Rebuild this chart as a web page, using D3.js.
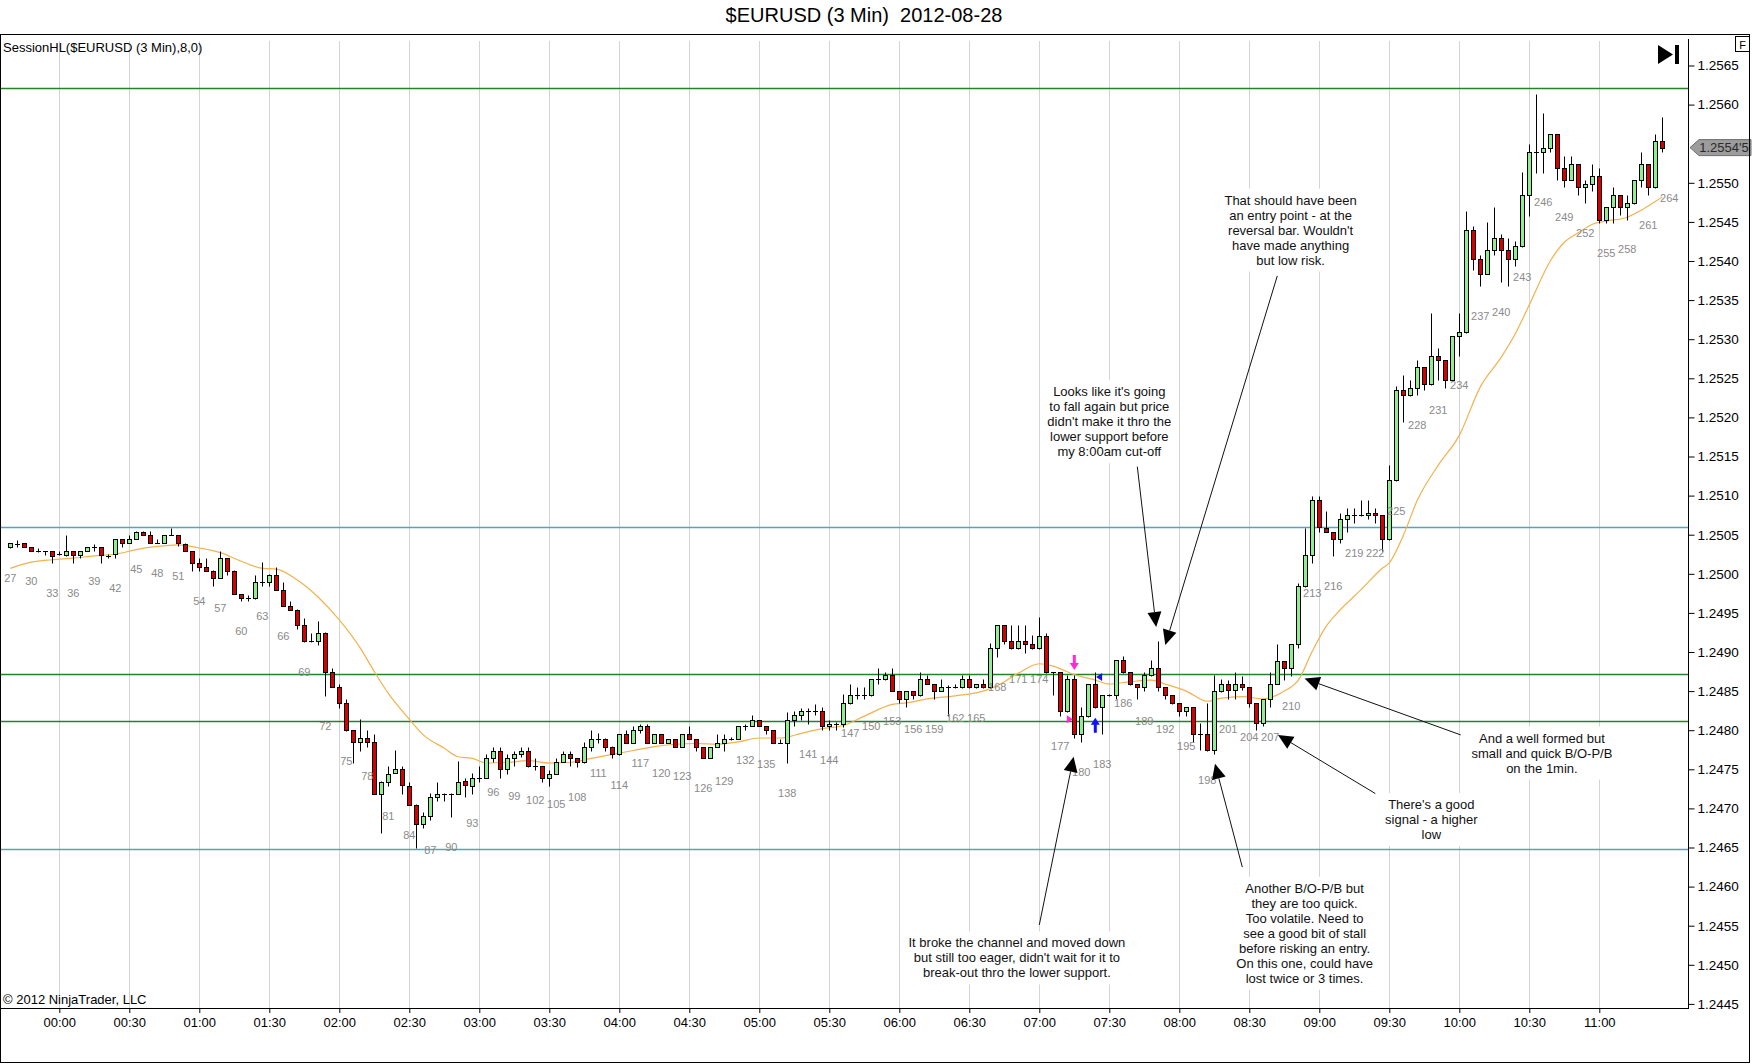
<!DOCTYPE html>
<html>
<head>
<meta charset="utf-8">
<script src="https://cdn.jsdelivr.net/npm/d3@7"></script>
<style>
  body { margin: 0; background: #fff; }
  svg { display: block; font-family: "Liberation Sans", Arial, sans-serif; }
</style>
</head>
<body>
<div id="chart"></div>
<script>
// ---- data ----
const title = "$EURUSD (3 Min)  2012-08-28";
const indicatorName = "SessionHL($EURUSD (3 Min),8,0)";
const copyright = "\u00a9 2012 NinjaTrader, LLC";
const lastPriceText = "1.2554'5";

// bar numbering: bar 34 opens at 00:00, one bar every 3 minutes
const firstBar = 27;
const midnightBar = 34;

// OHLC for bars 27 .. 263 (ten per row)
const opens = [
  1.25034,1.25038,1.25039,1.25034,1.25029,1.25029,1.25029,1.25025,1.25024,1.25029,
  1.25024,1.25029,1.25034,1.25034,1.25023,1.25025,1.25044,1.25039,1.25044,1.25054,
  1.25049,1.25040,1.25039,1.25050,1.25049,1.25038,1.25029,1.25014,1.25009,1.25004,
  1.24994,1.25020,1.25004,1.24974,1.24969,1.24969,1.24989,1.24989,1.24999,1.24979,
  1.24959,1.24954,1.24934,1.24914,1.24914,1.24924,1.24874,1.24855,1.24835,1.24800,
  1.24785,1.24790,1.24785,1.24719,1.24734,1.24745,1.24750,1.24729,1.24704,1.24680,
  1.24690,1.24714,1.24719,1.24719,1.24719,1.24735,1.24729,1.24739,1.24739,1.24764,
  1.24774,1.24750,1.24764,1.24769,1.24774,1.24754,1.24754,1.24739,1.24744,1.24759,
  1.24769,1.24764,1.24759,1.24779,1.24789,1.24789,1.24779,1.24769,1.24795,1.24784,
  1.24800,1.24805,1.24784,1.24795,1.24784,1.24789,1.24779,1.24795,1.24789,1.24779,
  1.24764,1.24779,1.24784,1.24789,1.24789,1.24805,1.24805,1.24813,1.24805,1.24800,
  1.24784,1.24784,1.24813,1.24819,1.24824,1.24824,1.24824,1.24805,1.24808,1.24808,
  1.24835,1.24845,1.24845,1.24845,1.24865,1.24865,1.24870,1.24850,1.24840,1.24850,
  1.24845,1.24865,1.24859,1.24850,1.24855,1.24855,1.24855,1.24865,1.24855,1.24859,
  1.24855,1.24905,1.24935,1.24914,1.24905,1.24914,1.24910,1.24905,1.24920,1.24874,
  1.24874,1.24824,1.24865,1.24795,1.24818,1.24859,1.24830,1.24845,1.24845,1.24890,
  1.24874,1.24859,1.24855,1.24870,1.24879,1.24855,1.24845,1.24835,1.24824,1.24830,
  1.24795,1.24795,1.24775,1.24850,1.24859,1.24851,1.24859,1.24855,1.24835,1.24809,
  1.24840,1.24859,1.24889,1.24879,1.24910,1.24984,1.25024,1.25094,1.25058,1.25054,
  1.25044,1.25070,1.25075,1.25075,1.25075,1.25078,1.25075,1.25044,1.25120,1.25235,
  1.25229,1.25238,1.25264,1.25243,1.25279,1.25274,1.25248,1.25304,1.25309,1.25440,
  1.25403,1.25384,1.25414,1.25429,1.25414,1.25403,1.25419,1.25485,1.25539,1.25539,
  1.25544,1.25563,1.25519,1.25504,1.25524,1.25494,1.25499,1.25509,1.25453,1.25469,
  1.25484,1.25469,1.25474,1.25504,1.25524,1.25494,1.25554
];
const highs = [
  1.25040,1.25043,1.25040,1.25034,1.25033,1.25029,1.25029,1.25029,1.25050,1.25029,
  1.25029,1.25034,1.25038,1.25034,1.25025,1.25044,1.25044,1.25049,1.25055,1.25055,
  1.25055,1.25044,1.25050,1.25059,1.25050,1.25039,1.25029,1.25020,1.25020,1.25005,
  1.25029,1.25020,1.25005,1.24974,1.24973,1.24999,1.25015,1.25000,1.25009,1.24989,
  1.24965,1.24955,1.24944,1.24924,1.24940,1.24925,1.24879,1.24859,1.24840,1.24800,
  1.24814,1.24800,1.24795,1.24735,1.24754,1.24775,1.24754,1.24734,1.24705,1.24695,
  1.24720,1.24734,1.24720,1.24720,1.24760,1.24739,1.24745,1.24754,1.24770,1.24779,
  1.24779,1.24770,1.24774,1.24779,1.24779,1.24764,1.24754,1.24749,1.24764,1.24774,
  1.24774,1.24764,1.24785,1.24800,1.24796,1.24790,1.24780,1.24795,1.24800,1.24806,
  1.24808,1.24808,1.24795,1.24795,1.24789,1.24789,1.24795,1.24805,1.24789,1.24779,
  1.24779,1.24795,1.24795,1.24791,1.24805,1.24808,1.24819,1.24813,1.24805,1.24800,
  1.24789,1.24823,1.24825,1.24829,1.24829,1.24834,1.24830,1.24813,1.24810,1.24846,
  1.24859,1.24855,1.24855,1.24865,1.24879,1.24874,1.24879,1.24850,1.24850,1.24850,
  1.24874,1.24870,1.24859,1.24865,1.24858,1.24859,1.24870,1.24870,1.24859,1.24865,
  1.24911,1.24935,1.24935,1.24935,1.24935,1.24935,1.24922,1.24945,1.24924,1.24874,
  1.24874,1.24870,1.24870,1.24830,1.24859,1.24874,1.24845,1.24846,1.24890,1.24895,
  1.24874,1.24859,1.24874,1.24890,1.24914,1.24855,1.24845,1.24835,1.24830,1.24830,
  1.24809,1.24835,1.24870,1.24865,1.24864,1.24874,1.24869,1.24855,1.24835,1.24840,
  1.24874,1.24910,1.24889,1.24910,1.24988,1.25058,1.25100,1.25100,1.25080,1.25054,
  1.25078,1.25084,1.25084,1.25094,1.25094,1.25084,1.25075,1.25139,1.25240,1.25254,
  1.25248,1.25274,1.25264,1.25334,1.25289,1.25274,1.25304,1.25334,1.25464,1.25445,
  1.25408,1.25450,1.25469,1.25434,1.25429,1.25425,1.25514,1.25550,1.25613,1.25589,
  1.25563,1.25563,1.25534,1.25534,1.25524,1.25504,1.25524,1.25519,1.25469,1.25494,
  1.25484,1.25484,1.25504,1.25539,1.25524,1.25563,1.25584
];
const lows = [
  1.25033,1.25034,1.25034,1.25029,1.25028,1.25024,1.25014,1.25024,1.25023,1.25014,
  1.25020,1.25029,1.25029,1.25014,1.25020,1.25020,1.25034,1.25039,1.25044,1.25049,
  1.25039,1.25039,1.25039,1.25049,1.25035,1.25029,1.25004,1.25004,1.25004,1.24984,
  1.24994,1.24999,1.24974,1.24965,1.24965,1.24968,1.24984,1.24984,1.24979,1.24959,
  1.24954,1.24929,1.24913,1.24913,1.24909,1.24844,1.24855,1.24829,1.24799,1.24758,
  1.24774,1.24779,1.24719,1.24669,1.24729,1.24745,1.24719,1.24704,1.24649,1.24675,
  1.24685,1.24709,1.24710,1.24689,1.24719,1.24714,1.24719,1.24734,1.24739,1.24759,
  1.24739,1.24744,1.24754,1.24766,1.24753,1.24749,1.24734,1.24729,1.24744,1.24759,
  1.24754,1.24753,1.24758,1.24774,1.24783,1.24773,1.24764,1.24768,1.24784,1.24784,
  1.24796,1.24784,1.24784,1.24784,1.24784,1.24779,1.24779,1.24789,1.24773,1.24764,
  1.24764,1.24779,1.24773,1.24788,1.24789,1.24800,1.24805,1.24805,1.24795,1.24784,
  1.24784,1.24758,1.24805,1.24813,1.24808,1.24819,1.24800,1.24800,1.24800,1.24804,
  1.24834,1.24840,1.24840,1.24844,1.24859,1.24864,1.24850,1.24835,1.24830,1.24840,
  1.24844,1.24859,1.24840,1.24850,1.24818,1.24854,1.24854,1.24854,1.24854,1.24854,
  1.24854,1.24894,1.24910,1.24904,1.24904,1.24899,1.24904,1.24904,1.24873,1.24845,
  1.24818,1.24823,1.24790,1.24785,1.24817,1.24829,1.24795,1.24844,1.24840,1.24873,
  1.24858,1.24840,1.24850,1.24869,1.24850,1.24840,1.24834,1.24818,1.24818,1.24785,
  1.24775,1.24774,1.24770,1.24849,1.24840,1.24840,1.24851,1.24830,1.24800,1.24805,
  1.24830,1.24859,1.24864,1.24869,1.24905,1.24983,1.25014,1.25054,1.25053,1.25023,
  1.25039,1.25054,1.25065,1.25074,1.25070,1.25065,1.25029,1.25043,1.25119,1.25194,
  1.25228,1.25229,1.25235,1.25242,1.25248,1.25238,1.25247,1.25279,1.25308,1.25389,
  1.25368,1.25383,1.25408,1.25373,1.25368,1.25393,1.25418,1.25458,1.25513,1.25513,
  1.25539,1.25504,1.25494,1.25503,1.25484,1.25474,1.25489,1.25448,1.25449,1.25449,
  1.25459,1.25453,1.25473,1.25494,1.25484,1.25493,1.25539
];
const closes = [
  1.25039,1.25038,1.25034,1.25029,1.25029,1.25029,1.25023,1.25025,1.25029,1.25024,
  1.25029,1.25034,1.25034,1.25024,1.25023,1.25044,1.25039,1.25044,1.25054,1.25049,
  1.25039,1.25040,1.25049,1.25050,1.25039,1.25029,1.25014,1.25009,1.25004,1.24994,
  1.25020,1.25004,1.24974,1.24969,1.24969,1.24989,1.24989,1.24999,1.24979,1.24959,
  1.24954,1.24934,1.24914,1.24914,1.24924,1.24874,1.24855,1.24835,1.24800,1.24785,
  1.24790,1.24785,1.24719,1.24734,1.24744,1.24750,1.24730,1.24704,1.24680,1.24690,
  1.24714,1.24719,1.24719,1.24719,1.24734,1.24730,1.24739,1.24739,1.24764,1.24774,
  1.24750,1.24764,1.24769,1.24774,1.24754,1.24754,1.24739,1.24744,1.24759,1.24769,
  1.24764,1.24759,1.24779,1.24789,1.24789,1.24779,1.24769,1.24795,1.24784,1.24800,
  1.24805,1.24784,1.24795,1.24784,1.24789,1.24779,1.24795,1.24789,1.24779,1.24764,
  1.24779,1.24784,1.24789,1.24789,1.24805,1.24805,1.24813,1.24805,1.24800,1.24784,
  1.24784,1.24813,1.24819,1.24824,1.24824,1.24824,1.24805,1.24808,1.24808,1.24835,
  1.24845,1.24845,1.24845,1.24865,1.24865,1.24870,1.24850,1.24840,1.24850,1.24845,
  1.24865,1.24859,1.24850,1.24855,1.24855,1.24855,1.24865,1.24855,1.24859,1.24855,
  1.24905,1.24935,1.24914,1.24905,1.24914,1.24910,1.24905,1.24920,1.24874,1.24874,
  1.24824,1.24865,1.24795,1.24818,1.24859,1.24830,1.24845,1.24845,1.24890,1.24874,
  1.24859,1.24855,1.24870,1.24879,1.24855,1.24845,1.24835,1.24824,1.24830,1.24795,
  1.24795,1.24775,1.24850,1.24859,1.24851,1.24859,1.24855,1.24835,1.24809,1.24840,
  1.24859,1.24889,1.24879,1.24910,1.24984,1.25024,1.25094,1.25060,1.25054,1.25044,
  1.25070,1.25075,1.25075,1.25075,1.25078,1.25075,1.25044,1.25120,1.25235,1.25229,
  1.25238,1.25264,1.25243,1.25279,1.25274,1.25248,1.25304,1.25309,1.25440,1.25403,
  1.25384,1.25414,1.25429,1.25414,1.25403,1.25419,1.25484,1.25539,1.25539,1.25544,
  1.25563,1.25519,1.25504,1.25524,1.25494,1.25499,1.25509,1.25453,1.25469,1.25484,
  1.25469,1.25474,1.25504,1.25524,1.25494,1.25554,1.25545
];

// orange moving average, read at sample bars
const maBars = [27,30,33,36,39,42,45,48,51,54,57,60,63,65,68,71,74,77,79,81,
  84,86,89,91,93,95,98,101,104,107,110,113,116,119,122,125,128,131,134,137,
  140,143,146,149,153,155,158,162,166,168,171,174,176,179,182,184,187,190,192,195,
  198,200,203,206,209,211,213,215,217,220,223,224,226,228,231,234,237,240,242,244,
  247,249,251,253,255,258,260,262,263];
const maValues = [1.25007,1.25015,1.25018,1.25020,1.25023,1.25025,1.25031,1.25035,1.25037,1.25033,
  1.25027,1.25016,1.25007,1.25006,1.24992,1.24970,1.24941,1.24905,1.24875,1.24847,
  1.24814,1.24794,1.24777,1.24766,1.24764,1.24758,1.24759,1.24761,1.24758,1.24759,
  1.24764,1.24769,1.24774,1.24779,1.24782,1.24783,1.24782,1.24785,1.24790,1.24790,
  1.24796,1.24802,1.24806,1.24818,1.24833,1.24835,1.24840,1.24844,1.24850,1.24857,
  1.24873,1.24885,1.24882,1.24871,1.24864,1.24859,1.24862,1.24864,1.24859,1.24850,
  1.24837,1.24841,1.24843,1.24840,1.24850,1.24864,1.24901,1.24933,1.24954,1.24980,
  1.25007,1.25014,1.25049,1.25094,1.25139,1.25177,1.25239,1.25277,1.25307,1.25344,
  1.25400,1.25424,1.25436,1.25447,1.25451,1.25456,1.25465,1.25476,1.25482];

// session high / low lines
const levelPrices = [1.25621, 1.25060, 1.24872, 1.24812, 1.24648];
const levelKinds  = ["current", "prior", "current", "current", "prior"];

// bar number label drawn without a visible bar
const extraLabelBars = [264];
const extraLabelLows = [1.25519];

// trade markers
const signals = [
  {bar: 179, price: 1.24877, kind: "down"},
  {bar: 178.5, price: 1.24814, kind: "entry"},
  {bar: 182.4, price: 1.24868, kind: "exit"},
  {bar: 182, price: 1.24816, kind: "up"}
];

// annotations: text anchor (bar, price) and arrow from/to (bar, price)
const annotations = [
  {lines: ["That should have been", "an entry point - at the", "reversal bar. Wouldn't", "have made anything", "but low risk."],
   at: [209.9, 1.25478], from: [208.0, 1.25381], to: [192.0, 1.24909]},
  {lines: ["Looks like it's going", "to fall again but price", "didn't make it thro the", "lower support before", "my 8:00am cut-off"],
   at: [184.0, 1.25233], from: [188.0, 1.25137], to: [190.7, 1.24932]},
  {lines: ["It broke the channel and moved down", "but still too eager, didn't wait for it to", "break-out thro the lower support."],
   at: [170.8, 1.24528], from: [174.0, 1.24551], to: [178.9, 1.24766]},
  {lines: ["Another B/O-P/B but", "they are too quick.", "Too volatile. Need to", "see a good bit of stall", "before risking an entry.", "On this one, could have", "lost twice or 3 times."],
   at: [211.9, 1.24598], from: [203.0, 1.24625], to: [199.1, 1.24757]},
  {lines: ["There's a good", "signal - a higher", "low"],
   at: [230.0, 1.24705], from: [222.0, 1.24719], to: [208.1, 1.24794]},
  {lines: ["And a well formed but", "small and quick B/O-P/B", "on the 1min."],
   at: [245.8, 1.24790], from: [234.2, 1.24794], to: [211.9, 1.24866]}
];

// ---- layout ----
const W = 1752, H = 1064;
const plotRight = 1688, plotTop = 39, plotBottom = 1008;

const svg = d3.select("#chart").append("svg")
  .attr("width", W).attr("height", H);

svg.append("rect").attr("width", W).attr("height", H).attr("fill", "#fff");

// scales
const midnight = new Date(2012, 7, 28, 0, 0);
const barTime = n => new Date(midnight.getTime() + (n - midnightBar) * 3 * 60000);
const x = d3.scaleTime()
  .domain([midnight, new Date(2012, 7, 28, 11, 0)])
  .range([59.3, 1599.3]);
const xb = n => x(barTime(n));
const y = d3.scaleLinear().domain([1.2445, 1.2565]).range([1003.9, 65.5]);

const bars = opens.map((o, i) => ({n: firstBar + i, o: o, h: highs[i], l: lows[i], c: closes[i]}));

// title
svg.append("text")
  .attr("x", 864).attr("y", 22)
  .attr("text-anchor", "middle")
  .attr("font-size", 20)
  .style("white-space", "pre")
  .text(title);

// grid
const timeTicks = d3.timeMinute.every(30).range(midnight, new Date(2012, 7, 28, 11, 1));
svg.append("g").selectAll("line").data(timeTicks).join("line")
  .attr("x1", d => Math.round(x(d)) + 0.5).attr("x2", d => Math.round(x(d)) + 0.5)
  .attr("y1", 41).attr("y2", plotBottom)
  .attr("stroke", "#d4d4d4").attr("stroke-width", 1);

const plot = svg.append("g");
plot.append("clipPath").attr("id", "clip")
  .append("rect").attr("x", 0).attr("y", plotTop).attr("width", plotRight).attr("height", plotBottom - plotTop);
const inner = plot.append("g").attr("clip-path", "url(#clip)");

// session lines
const levelColor = {current: "#23822a", prior: "#4ba9b9"};
inner.selectAll(".level").data(levelPrices).join("line")
  .attr("x1", 0).attr("x2", plotRight)
  .attr("y1", d => Math.round(y(d)) + 0.5).attr("y2", d => Math.round(y(d)) + 0.5)
  .attr("stroke", (d, i) => levelColor[levelKinds[i]]).attr("stroke-width", 1.3);

// moving average
const maLine = d3.line()
  .x(d => xb(d[0])).y(d => y(d[1]))
  .curve(d3.curveMonotoneX);
inner.append("path")
  .datum(maBars.map((b, i) => [b, maValues[i]]))
  .attr("d", maLine)
  .attr("fill", "none").attr("stroke", "#f2b24e").attr("stroke-width", 1.2);

// candles
const cx = n => Math.round(xb(n)) + 0.5;
const py = v => Math.round(y(v)) + 0.5;
inner.append("g").selectAll("line").data(bars).join("line")
  .attr("x1", d => cx(d.n)).attr("x2", d => cx(d.n))
  .attr("y1", d => py(d.h)).attr("y2", d => py(d.l))
  .attr("stroke", "#000").attr("stroke-width", 1);

const bodies = bars.filter(d => Math.abs(d.o - d.c) > 0.000005);
inner.append("g").selectAll("rect").data(bodies).join("rect")
  .attr("x", d => cx(d.n) - 2)
  .attr("y", d => py(Math.max(d.o, d.c)))
  .attr("width", 4)
  .attr("height", d => Math.max(1, py(Math.min(d.o, d.c)) - py(Math.max(d.o, d.c))))
  .attr("fill", d => d.c > d.o ? "#90ee90" : "#d60000")
  .attr("stroke", "#000").attr("stroke-width", 1);

const dojis = bars.filter(d => Math.abs(d.o - d.c) <= 0.000005);
inner.append("g").selectAll("line").data(dojis).join("line")
  .attr("x1", d => cx(d.n) - 2.5).attr("x2", d => cx(d.n) + 2.5)
  .attr("y1", d => py(d.c)).attr("y2", d => py(d.c))
  .attr("stroke", "#000").attr("stroke-width", 1);

// bar number labels every 3 bars
const labelled = bars.filter(d => (d.n - firstBar) % 3 === 0)
  .map(d => ({n: d.n, low: d.l}))
  .concat(extraLabelBars.map((n, i) => ({n: n, low: extraLabelLows[i]})));
inner.append("g").selectAll("text").data(labelled).join("text")
  .attr("x", d => xb(d.n)).attr("y", d => y(d.low) + 30)
  .attr("dy", "0.35em")
  .attr("text-anchor", "middle")
  .attr("font-size", 11).attr("fill", "#8a8a8a")
  .text(d => d.n);

// trade markers
const sig = inner.append("g");
signals.forEach(s => {
  const sx = xb(s.bar), sy = y(s.price);
  if (s.kind === "down") {
    sig.append("path")
      .attr("d", `M${sx - 1.5},${sy - 15} h3 v8 h3 l-4.5,7 l-4.5,-7 h3 z`)
      .attr("fill", "#ff2ad4");
  } else if (s.kind === "up") {
    sig.append("path")
      .attr("d", `M${sx},${sy} l4.5,7 h-3 v8 h-3 v-8 h-3 z`)
      .attr("fill", "#1010ff");
  } else if (s.kind === "entry") {
    sig.append("path")
      .attr("d", `M${sx - 4},${sy - 4} l6,4 l-6,4 z`)
      .attr("fill", "#ff2ad4");
  } else {
    sig.append("path")
      .attr("d", `M${sx + 4},${sy - 4} l-6,4 l6,4 z`)
      .attr("fill", "#1010ff");
  }
});

// annotations
const ann = svg.append("g");
annotations.forEach(a => {
  const tx = xb(a.at[0]), ty = y(a.at[1]);
  const g = ann.append("g");
  const bg = g.append("rect").attr("fill", "#fff");
  const t = g.append("text")
    .attr("text-anchor", "middle")
    .attr("font-size", 13).attr("fill", "#111");
  a.lines.forEach((ln, i) => {
    t.append("tspan").attr("x", tx).attr("y", ty + i * 15).attr("dy", "0.35em").text(ln);
  });
  const bb = t.node().getBBox();
  bg.attr("x", bb.x - 5).attr("y", bb.y - 4).attr("width", bb.width + 10).attr("height", bb.height + 8);

  const x1 = xb(a.from[0]), y1 = y(a.from[1]);
  const x2 = xb(a.to[0]), y2 = y(a.to[1]);
  const ang = Math.atan2(y2 - y1, x2 - x1);
  const len = 15, hw = 7;
  const bx = x2 - len * Math.cos(ang), by = y2 - len * Math.sin(ang);
  ann.append("line")
    .attr("x1", x1).attr("y1", y1).attr("x2", bx).attr("y2", by)
    .attr("stroke", "#111").attr("stroke-width", 1);
  ann.append("path")
    .attr("d", `M${x2},${y2} L${bx + hw * Math.sin(ang)},${by - hw * Math.cos(ang)} L${bx - hw * Math.sin(ang)},${by + hw * Math.cos(ang)} Z`)
    .attr("fill", "#000");
});

// axes
const xAxis = d3.axisBottom(x)
  .tickValues(timeTicks)
  .tickFormat(d3.timeFormat("%H:%M"))
  .tickSize(5).tickPadding(5);
const xg = svg.append("g").attr("transform", `translate(0,${plotBottom})`).call(xAxis);
xg.select(".domain").remove();
xg.selectAll("text").attr("font-size", 13).attr("fill", "#000").attr("font-family", null);
xg.selectAll("line").attr("stroke", "#000");

// price ticks; the one hidden under the last-price tag is left out
const lastClose = closes[closes.length - 1];
const ly = y(lastClose);
const priceTicks = d3.range(0, 25).map(i => 1.2445 + i * 0.0005)
  .filter(v => Math.abs(y(v) - ly) > 10);
const yAxis = d3.axisRight(y)
  .tickValues(priceTicks)
  .tickFormat(d3.format(".4f"))
  .tickSize(6).tickPadding(3);
const yg = svg.append("g").attr("transform", `translate(${plotRight + 0.5},0)`).call(yAxis);
yg.select(".domain").remove();
yg.selectAll("text").attr("font-size", 13.5).attr("fill", "#000").attr("font-family", null);
yg.selectAll("line").attr("stroke", "#000");

svg.append("line").attr("x1", 0).attr("x2", plotRight + 1)
  .attr("y1", plotBottom + 0.5).attr("y2", plotBottom + 0.5).attr("stroke", "#000");
svg.append("line").attr("x1", plotRight + 0.5).attr("x2", plotRight + 0.5)
  .attr("y1", plotTop).attr("y2", plotBottom + 1).attr("stroke", "#000");

// last price tag
svg.append("path")
  .attr("d", `M${plotRight + 2},${ly} L${plotRight + 11},${ly - 8} H1751 V${ly + 8} H${plotRight + 11} Z`)
  .attr("fill", "#9c9c9c").attr("stroke", "#6e6e6e");
svg.append("text")
  .attr("x", 1724).attr("y", ly).attr("dy", "0.36em")
  .attr("text-anchor", "middle").attr("font-size", 13).attr("fill", "#2a2a2a")
  .text(lastPriceText);

// corner widgets
svg.append("path").attr("d", "M1658,45 L1673,54.5 L1658,64 Z").attr("fill", "#000");
svg.append("rect").attr("x", 1675).attr("y", 45).attr("width", 4).attr("height", 19).attr("fill", "#000");
svg.append("rect").attr("x", 1735.5).attr("y", 36.5).attr("width", 14).attr("height", 15)
  .attr("fill", "#fff").attr("stroke", "#000");
svg.append("text").attr("x", 1742.5).attr("y", 48.5).attr("text-anchor", "middle")
  .attr("font-size", 11).text("F");

// texts
svg.append("text").attr("x", 3).attr("y", 52).attr("font-size", 13).text(indicatorName);
svg.append("text").attr("x", 3).attr("y", 1004).attr("font-size", 13).text(copyright);

// outer frame
svg.append("rect").attr("x", 0.5).attr("y", 34.5).attr("width", 1749).attr("height", 1028)
  .attr("fill", "none").attr("stroke", "#000");
</script>
</body>
</html>
